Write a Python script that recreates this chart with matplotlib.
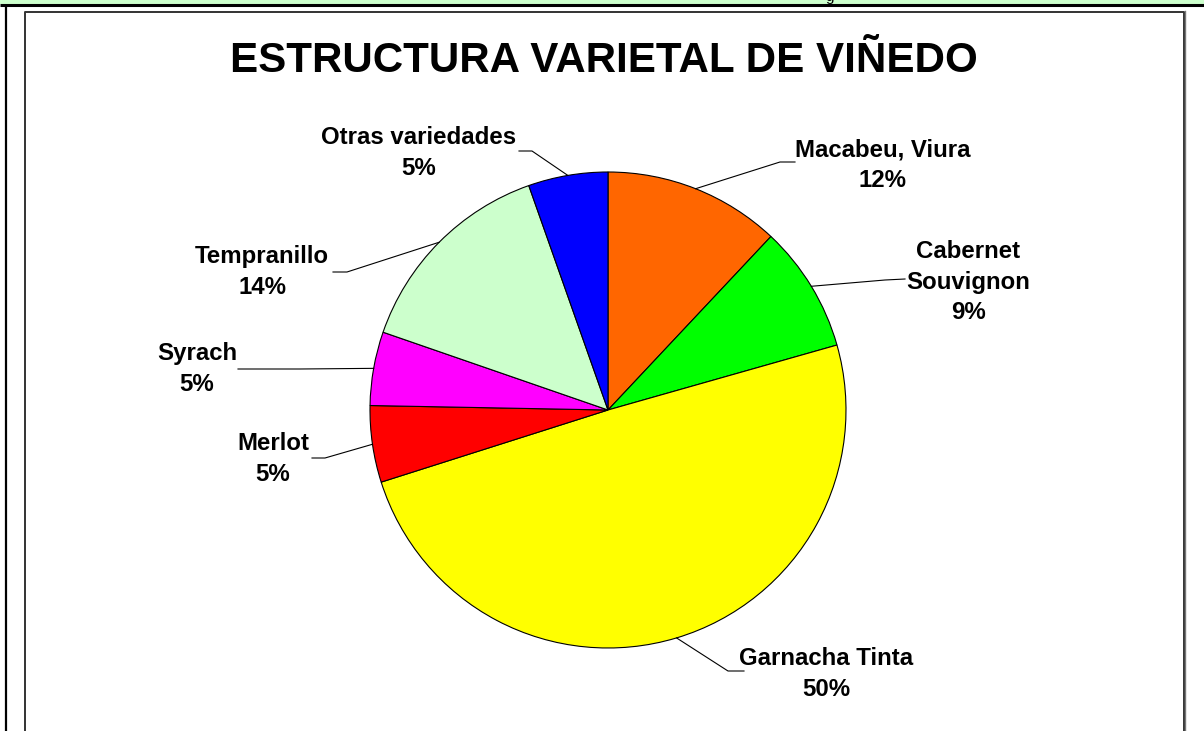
import matplotlib.pyplot as plt
import numpy as np
from matplotlib.patches import Rectangle

# variedades, en el orden del grafico (empieza arriba, sentido horario)
varieties = ["Macabeu, Viura", "Cabernet\nSouvignon", "Garnacha Tinta", "Merlot",
             "Syrach", "Tempranillo", "Otras variedades"]
shares = [12.0, 8.6, 49.5, 5.2, 5.0, 14.3, 5.4]
colors = ["#FF6600", "#00FF00", "#FFFF00", "#FF0000", "#FF00FF", "#CCFFCC", "#0000FF"]

# posiciones de etiquetas y codos de las lineas guia (en pixeles, y hacia abajo)
label_xy = [(883, 165), (968, 282), (826, 674), (273, 459), (197, 369), (262, 272), (419, 153)]
elbow_xy = [(780, 162), (885, 280), (728, 671), (325, 458), (300, 369), (347, 272), (532, 151)]
end_xy = [(795, 162), (905, 279), (744, 671), (312, 458), (238, 369), (333, 272), (519, 151)]

W, H = 1204, 731
fig = plt.figure(figsize=(W / 100, H / 100), dpi=100)
ax = fig.add_axes([0, 0, 1, 1])

font = "Liberation Sans"

# marco
ax.add_patch(Rectangle((0, H - 4), W, 4, color="#CCFFCC", lw=0, zorder=0))
ax.plot([0, W], [H - 5, H - 5], color="black", lw=2.2, solid_capstyle="butt")
ax.plot([5.5, 5.5], [0, H - 5], color="black", lw=1.6, solid_capstyle="butt")
ax.plot([24.5, 24.5, 1183.5, 1183.5], [0, H - 11.5, H - 11.5, 0], color="#333333", lw=1.4)
ax.plot([1185, 1185], [0, H - 11], color="#777777", lw=1.0)
fig.text(830 / W, 1 - 1.5 / H, "g", ha="center", va="baseline", fontsize=11, family=font)

cx, cy, r = 608, H - 410, 238
wedges, _ = ax.pie(shares, colors=colors, startangle=90, counterclock=False,
                   center=(cx, cy), radius=r, frame=True,
                   wedgeprops=dict(edgecolor="black", linewidth=0.8))
ax.set_xlim(0, W)
ax.set_ylim(0, H)
ax.set_aspect("auto")
ax.axis("off")

for w, name, val, lxy, exy, nxy in zip(wedges, varieties, shares, label_xy, elbow_xy, end_xy):
    ang = np.deg2rad((w.theta1 + w.theta2) / 2)
    px, py = cx + r * np.cos(ang), cy + r * np.sin(ang)
    ax.plot([px, exy[0], nxy[0]], [py, H - exy[1], H - nxy[1]], color="black", lw=0.8)
    ax.text(lxy[0], H - lxy[1], "%s\n%d%%" % (name, round(val)), ha="center", va="center",
            fontsize=17.3, fontweight="bold", family=font, linespacing=1.4)

ax.text(604, H - 61, "ESTRUCTURA VARIETAL DE VIÑEDO", ha="center", va="center",
        fontsize=30.3, fontweight="bold", family=font)

fig.savefig("out.png", dpi=100)
